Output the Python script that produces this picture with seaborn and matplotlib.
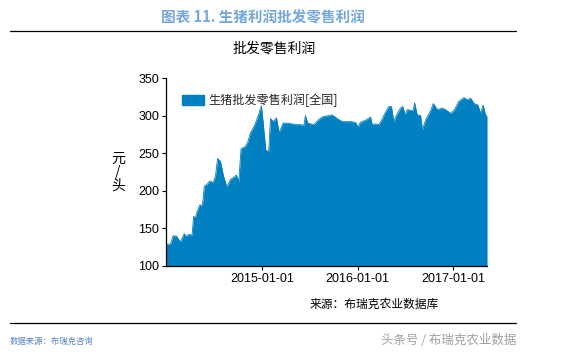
import numpy as np
import pandas as pd
import matplotlib
matplotlib.use("Agg")
import matplotlib.pyplot as plt
import matplotlib.dates as mdates
from matplotlib.patches import Patch
import seaborn as sns

# values (yuan per head)
dates = ["2013-12-27", "2014-01-13", "2014-01-23", "2014-02-05", "2014-02-20",
         "2014-03-07", "2014-03-15", "2014-03-24", "2014-04-06", "2014-04-12",
         "2014-04-19", "2014-04-25", "2014-05-05", "2014-05-16", "2014-05-23",
         "2014-06-03", "2014-06-13", "2014-06-26", "2014-07-05", "2014-07-13",
         "2014-07-24", "2014-08-05", "2014-08-18", "2014-08-31", "2014-09-13",
         "2014-09-23", "2014-10-02", "2014-10-11", "2014-10-28", "2014-11-06",
         "2014-11-16", "2014-11-29", "2014-12-12", "2014-12-28", "2015-01-04",
         "2015-01-14", "2015-01-25", "2015-02-01", "2015-02-11", "2015-02-24",
         "2015-03-06", "2015-03-21", "2015-04-12", "2015-04-25", "2015-05-08",
         "2015-05-27", "2015-06-09", "2015-06-15", "2015-06-24", "2015-07-17",
         "2015-08-09", "2015-08-24", "2015-09-13", "2015-09-26", "2015-10-15",
         "2015-11-03", "2015-12-05", "2015-12-24", "2016-01-02", "2016-01-12",
         "2016-02-01", "2016-02-20", "2016-02-26", "2016-03-10", "2016-03-23",
         "2016-04-05", "2016-04-18", "2016-04-30", "2016-05-10", "2016-05-19",
         "2016-05-30", "2016-06-14", "2016-06-23", "2016-07-01", "2016-07-10",
         "2016-07-23", "2016-08-02", "2016-08-07", "2016-08-17", "2016-08-30",
         "2016-09-06", "2016-09-18", "2016-10-05", "2016-10-18", "2016-11-02",
         "2016-11-21", "2016-12-08", "2016-12-23", "2017-01-05", "2017-01-24",
         "2017-02-12", "2017-02-25", "2017-03-10", "2017-03-23", "2017-04-07",
         "2017-04-17", "2017-04-27", "2017-05-06", "2017-05-12"]
profit = [129, 129, 140, 140, 132, 143, 139, 142, 141, 166,
          164, 172, 181, 181, 206, 209, 213, 211, 220, 243,
          239, 219, 205, 215, 218, 221, 212, 256, 259, 265,
          277, 285, 296, 313, 290, 254, 252, 296, 292, 297,
          277, 290, 290, 289, 288, 288, 287, 300, 290, 288,
          296, 299, 300, 301, 296, 292, 292, 291, 285, 291,
          294, 298, 288, 289, 288, 296, 305, 312, 312, 292,
          301, 310, 312, 301, 308, 307, 307, 317, 301, 300,
          281, 294, 305, 316, 308, 310, 307, 303, 307, 319,
          324, 321, 323, 316, 314, 303, 314, 301, 299]

year_ticks = ["2015-01-01", "2016-01-01", "2017-01-01"]
series_name = "生猪批发零售利润[全国]"

df = pd.DataFrame({"date": pd.to_datetime(dates), "profit": profit})

sns.set_style("ticks")
plt.rcParams["font.family"] = ["Liberation Sans", "Noto Sans CJK SC", "DejaVu Sans"]
cjk = ["Noto Sans CJK SC", "DejaVu Sans"]

color = "#0080c0"
fig = plt.figure(figsize=(5.71, 3.53), dpi=100)
ax = fig.add_axes([0.2907, 0.2465, 0.853 - 0.2907, 0.779 - 0.2465])

ax.fill_between(df["date"], 100, df["profit"], color=color, linewidth=0)
sns.lineplot(data=df, x="date", y="profit", ax=ax, color=color, linewidth=0.6)

ax.set_ylim(100, 350)
ax.set_yticks([100, 150, 200, 250, 300, 350])
ax.set_xlim(df["date"].iloc[0], df["date"].iloc[-1])
ax.set_xticks(pd.to_datetime(year_ticks))
ax.xaxis.set_major_formatter(mdates.DateFormatter("%Y-%m-%d"))
ax.tick_params(labelsize=9, length=3, width=0.8, colors="black", pad=2)
ax.set_xlabel("")
ax.set_ylabel("")
for s in ["top", "right"]:
    ax.spines[s].set_visible(False)
for s in ["left", "bottom"]:
    ax.spines[s].set_color("black")
    ax.spines[s].set_linewidth(0.9)

ax.legend(handles=[Patch(color=color, label=series_name)], loc="upper left",
          bbox_to_anchor=(0.015, 0.975), frameon=False, handlelength=1.85,
          handleheight=0.85, handletextpad=0.4, prop={"family": cjk, "size": 8.7})

# texts around the chart
fig.text(263 / 571, 1 - 18 / 353, "图表 11. 生猪利润批发零售利润", ha="center", va="center",
         fontsize=10.5, color="#74a7dc", family=cjk, weight="bold")
fig.add_artist(plt.Line2D([10 / 571, 516 / 571], [1 - 31 / 353] * 2, color="black", lw=0.9))
fig.text(274 / 571, 1 - 49 / 353, "批发零售利润", ha="center", va="center",
         fontsize=10, color="black", family=cjk)
fig.text(118 / 571, 1 - 172 / 353, "元\n/\n头", ha="center", va="center",
         fontsize=10, color="black", family=cjk, linespacing=0.95)
fig.text(310 / 571, 1 - 304 / 353, "来源：布瑞克农业数据库", ha="left", va="center",
         fontsize=8.5, color="black", family=cjk)
fig.add_artist(plt.Line2D([10 / 571, 516 / 571], [1 - 323 / 353] * 2, color="black", lw=0.9))
fig.text(10 / 571, 1 - 341 / 353, "数据来源：布瑞克咨询", ha="left", va="center",
         fontsize=6, color="#5a82c8", family=cjk)
fig.text(516 / 571, 1 - 341 / 353, "头条号 / 布瑞克农业数据", ha="right", va="center",
         fontsize=9, color="#a0a0a0", family=cjk)

fig.savefig("out.png", dpi=100)
